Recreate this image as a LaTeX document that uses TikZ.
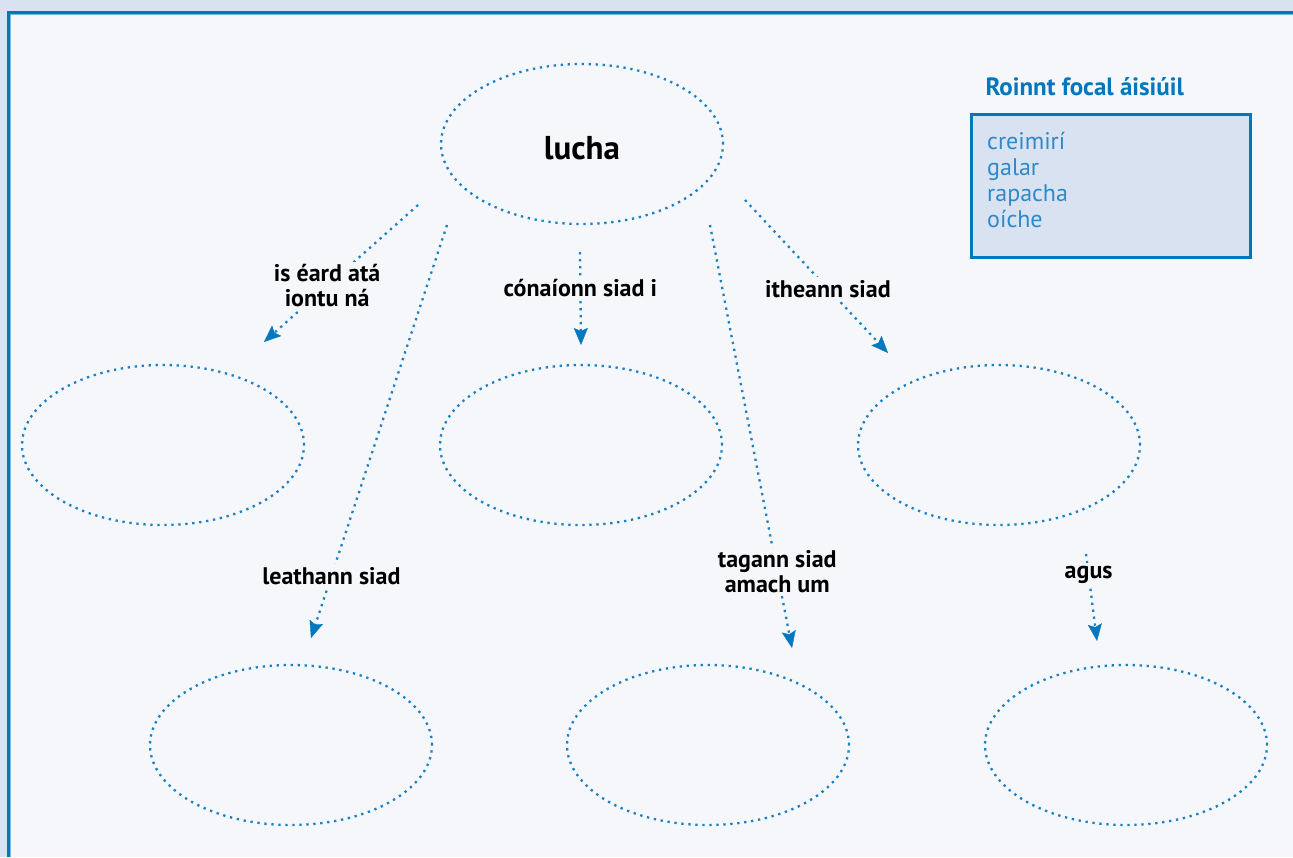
\documentclass[tikz,border=0pt]{standalone}
\usepackage{fontspec}
\setmainfont{PT Sans}
\usetikzlibrary{arrows.meta,shapes.geometric}

\definecolor{pagebg}{HTML}{D9E2F0}
\definecolor{panelbg}{HTML}{F5F7FB}
\definecolor{rimblue}{HTML}{0077BE}
\definecolor{rimlight}{HTML}{7DB8E0}
\definecolor{dotblue}{HTML}{1A80C6}
\definecolor{wordblue}{HTML}{2F89C8}

\tikzset{
  bubble/.style={ellipse, draw=dotblue, line width=2.3pt,
    dash pattern=on 2.3pt off 4.7pt, minimum width=282pt, minimum height=160pt},
  link/.style={draw=dotblue, line width=2.3pt, dash pattern=on 2.3pt off 4.7pt,
    -{Stealth[length=17pt,width=14pt,inset=3pt,line width=0.4pt,fill=rimblue,color=rimblue]}},
  linklabel/.style={fill=panelbg, inner sep=3pt, align=center,
    font=\bfseries\fontsize{24}{25}\selectfont}
}

\begin{document}
\begin{tikzpicture}[x=1pt,y=-1pt]
\useasboundingbox (0,0) rectangle (1293,857);

% page and panel
\fill[pagebg] (0,0) rectangle (1293,857);
\fill[panelbg] (8.5,12.5) rectangle (1293,857);
\draw[rimblue, line width=3pt] (8.5,857) |- (1293,12.5);
\draw[rimlight, line width=1pt] (10.5,857) |- (1293,14.5);

% bubbles
\node[bubble] (lucha) at (582,144) {};
\node[font=\bfseries\fontsize{33}{36}\selectfont] (luchaword) at (582,148) {lucha};
\node[bubble] (kind) at (163,445) {};
\node[bubble] (home) at (581,445) {};
\node[bubble] (food) at (999,445) {};
\node[bubble] (spread) at (291,745) {};
\node[bubble] (when) at (708,745) {};
\node[bubble] (also) at (1126,745) {};

% ends of the links
\coordinate (kindFrom) at (418,205);   \coordinate (kindTo) at (264,342);
\coordinate (spreadFrom) at (447,225); \coordinate (spreadTo) at (311,638);
\coordinate (homeFrom) at (580,252);   \coordinate (homeTo) at (581,345);
\coordinate (whenFrom) at (710,225);   \coordinate (whenTo) at (792,648);
\coordinate (foodFrom) at (745,200);   \coordinate (foodTo) at (888,353);
\coordinate (alsoFrom) at (1086,554);  \coordinate (alsoTo) at (1097,641);

% links with their labels
\draw[link] (kindFrom) -- node[linklabel, pos=0.59] {is éard atá\\iontu ná} (kindTo);
\draw[link] (spreadFrom) -- node[linklabel, pos=0.85] {leathann siad} (spreadTo);
\draw[link] (homeFrom) -- node[linklabel, pos=0.39] {cónaíonn siad i} (homeTo);
\draw[link] (whenFrom) -- node[linklabel, pos=0.82] {tagann siad\\amach um} (whenTo);
\draw[link] (foodFrom) -- node[linklabel, pos=0.58] {itheann siad} (foodTo);
\draw[link] (alsoFrom) -- node[linklabel, pos=0.24] {agus} (alsoTo);

% word box
\node[anchor=west, text=rimblue, font=\bfseries\fontsize{25}{28}\selectfont]
  (wordtitle) at (982,87) {Roinnt focal áisiúil};
\node[anchor=north west, draw=rimblue, fill=pagebg, line width=2.5pt,
  minimum width=279pt, minimum height=143pt] (wordbox) at (970,113) {};
\node[anchor=north west, text=wordblue, align=left, inner sep=0pt,
  font=\fontsize{24}{26}\selectfont] (wordlist) at (987,132)
  {creimirí\\galar\\rapacha\\oíche};

\end{tikzpicture}
\end{document}
